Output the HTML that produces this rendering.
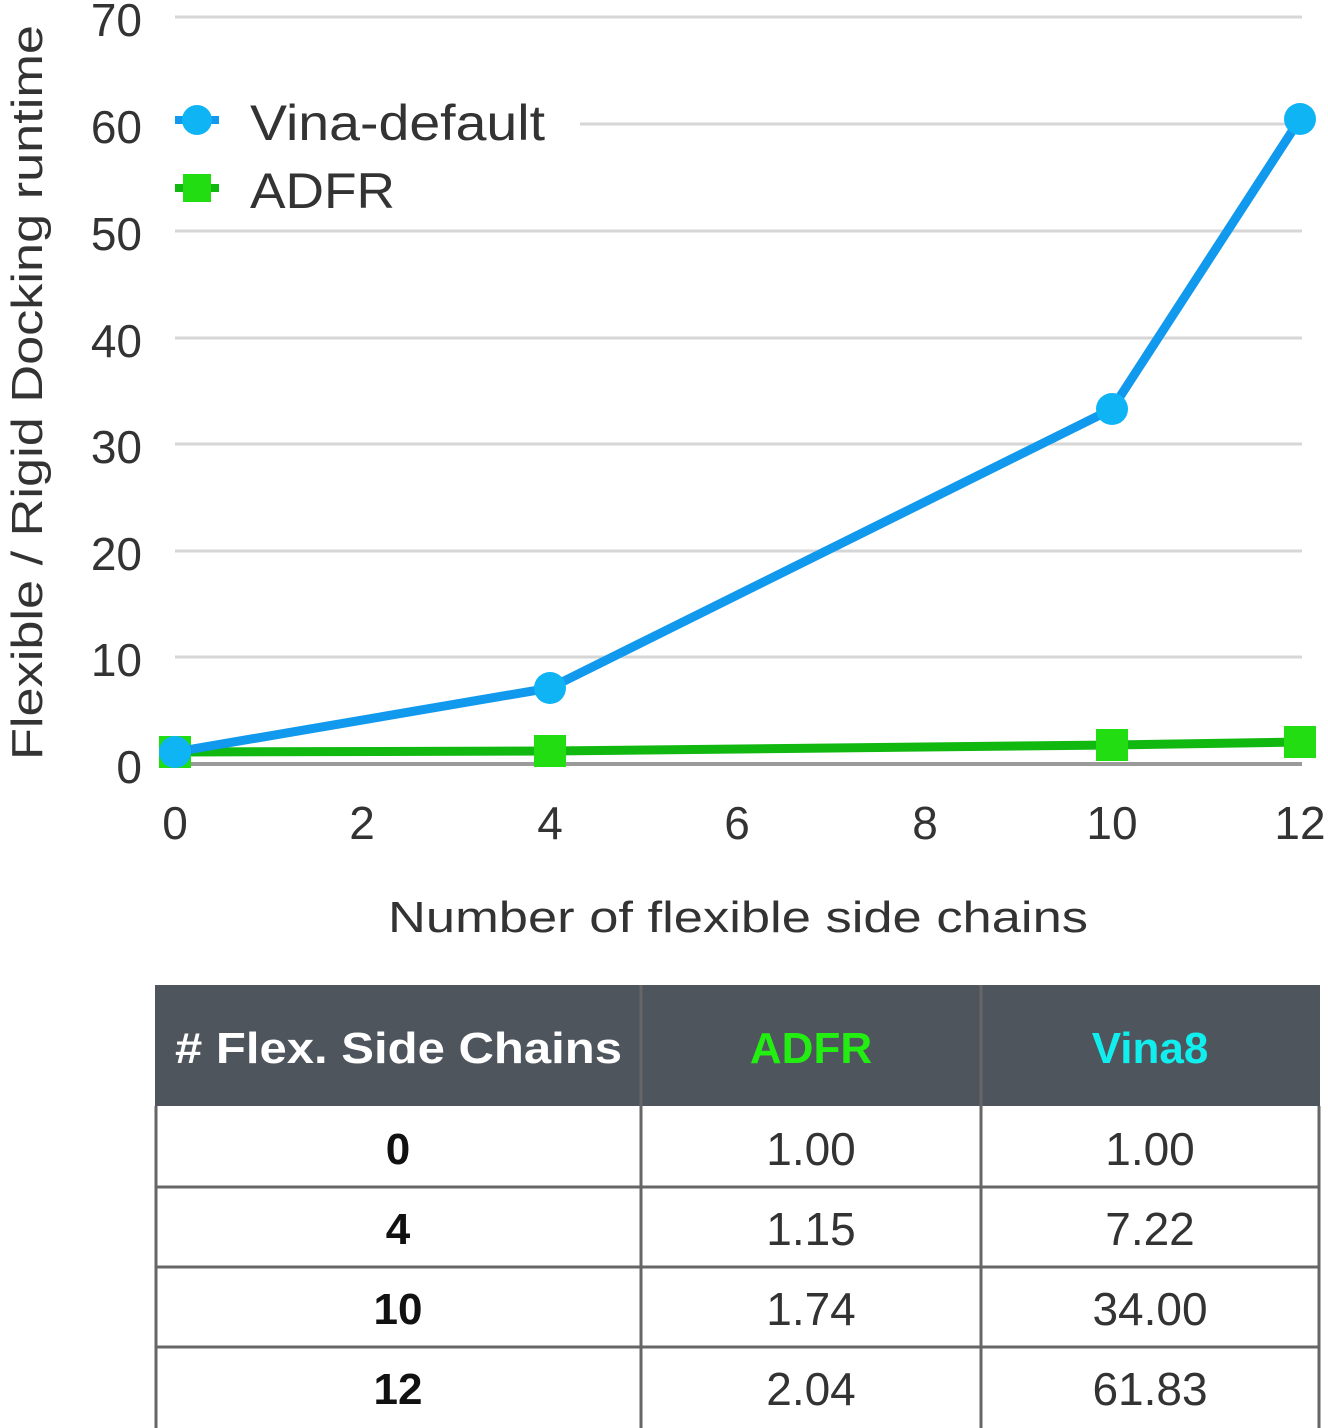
<!DOCTYPE html>
<html><head><meta charset="utf-8"><style>
html,body{margin:0;padding:0;background:#fff;}
svg{display:block;}
text{font-family:"Liberation Sans",sans-serif;}
</style></head><body>
<svg width="1328" height="1428" viewBox="0 0 1328 1428" xmlns="http://www.w3.org/2000/svg">
<rect width="1328" height="1428" fill="#fff"/>
<g stroke="#d6d6d6" stroke-width="3">
<line x1="175" y1="17" x2="1302" y2="17"/>
<line x1="580" y1="124" x2="1302" y2="124"/>
<line x1="175" y1="231" x2="1302" y2="231"/>
<line x1="175" y1="338" x2="1302" y2="338"/>
<line x1="175" y1="444" x2="1302" y2="444"/>
<line x1="175" y1="551" x2="1302" y2="551"/>
<line x1="175" y1="657" x2="1302" y2="657"/>
</g>
<line x1="175" y1="764" x2="1302" y2="764" stroke="#9a9a9a" stroke-width="4"/>
<g font-size="46" fill="#333" text-anchor="end">
<text x="142" y="36">70</text><text x="142" y="143">60</text><text x="142" y="250">50</text>
<text x="142" y="357">40</text><text x="142" y="463">30</text><text x="142" y="570">20</text>
<text x="142" y="676">10</text><text x="142" y="783">0</text>
</g>
<g font-size="46" fill="#333" text-anchor="middle">
<text x="175" y="839">0</text><text x="362" y="839">2</text><text x="550" y="839">4</text>
<text x="737" y="839">6</text><text x="925" y="839">8</text><text x="1112" y="839">10</text><text x="1300" y="839">12</text>
</g>
<text x="388" y="932" font-size="44" fill="#333" textLength="700" lengthAdjust="spacingAndGlyphs">Number of flexible side chains</text>
<text transform="translate(42,760) rotate(-90)" font-size="44" fill="#333" textLength="735" lengthAdjust="spacingAndGlyphs">Flexible / Rigid Docking runtime</text>
<polyline points="175,752 550,751 1112,745 1300,742" fill="none" stroke="#10b810" stroke-width="9"/>
<g fill="#22dd11">
<rect x="159" y="736" width="32" height="32"/><rect x="534" y="735" width="32" height="32"/>
<rect x="1096" y="729" width="32" height="32"/><rect x="1284" y="726" width="32" height="32"/>
</g>
<polyline points="175,752 550,688 1112,409 1300,119" fill="none" stroke="#1199ee" stroke-width="9"/>
<g fill="#0fb4f5">
<circle cx="175" cy="752" r="16"/><circle cx="550" cy="688" r="16"/>
<circle cx="1112" cy="409" r="16"/><circle cx="1300" cy="119" r="16"/>
</g>
<line x1="175" y1="120" x2="219" y2="120" stroke="#1199ee" stroke-width="8"/>
<circle cx="197" cy="120" r="15" fill="#0fb4f5"/>
<line x1="175" y1="188" x2="219" y2="188" stroke="#10b810" stroke-width="8"/>
<rect x="183" y="174" width="28" height="28" fill="#22dd11"/>
<text x="250" y="140" font-size="50" fill="#333" textLength="295" lengthAdjust="spacingAndGlyphs">Vina-default</text>
<text x="250" y="208" font-size="50" fill="#333" textLength="145" lengthAdjust="spacingAndGlyphs">ADFR</text>
<rect x="155" y="985" width="1165" height="121" fill="#4f555d"/>
<g font-size="44" font-weight="bold">
<text x="175" y="1063" fill="#fff" textLength="447" lengthAdjust="spacingAndGlyphs">#&#160;Flex. Side Chains</text>
<text x="811" y="1063" fill="#22ee11" text-anchor="middle">ADFR</text>
<text x="1150" y="1063" fill="#11eeee" text-anchor="middle">Vina8</text>
</g>
<g stroke="#666" stroke-width="3" fill="none">
<line x1="156" y1="1106" x2="156" y2="1428"/><line x1="1319" y1="1106" x2="1319" y2="1428"/>
<line x1="641" y1="985" x2="641" y2="1428"/><line x1="981" y1="985" x2="981" y2="1428"/>
<line x1="155" y1="1187" x2="1320" y2="1187"/><line x1="155" y1="1267" x2="1320" y2="1267"/>
<line x1="155" y1="1347" x2="1320" y2="1347"/>
</g>
<g font-size="44" text-anchor="middle" fill="#111" font-weight="bold">
<text x="398" y="1164">0</text><text x="398" y="1244">4</text><text x="398" y="1324">10</text><text x="398" y="1404">12</text>
</g>
<g font-size="46" text-anchor="middle" fill="#333">
<text x="811" y="1165">1.00</text><text x="811" y="1245">1.15</text><text x="811" y="1325">1.74</text><text x="811" y="1405">2.04</text>
<text x="1150" y="1165">1.00</text><text x="1150" y="1245">7.22</text><text x="1150" y="1325">34.00</text><text x="1150" y="1405">61.83</text>
</g>
</svg>
</body></html>
